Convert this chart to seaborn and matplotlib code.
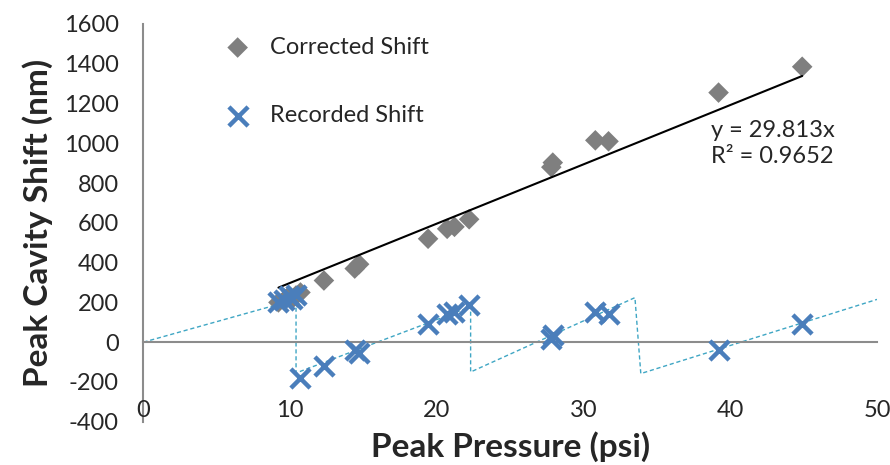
import numpy as np
import pandas as pd
import matplotlib
matplotlib.use("Agg")
import matplotlib.pyplot as plt
import seaborn as sns

sns.set_style("white")
plt.rcParams["font.family"] = ["Lato", "DejaVu Sans"]
plt.rcParams["axes.unicode_minus"] = False

# data
pressure = [9.2, 9.6, 9.9, 10.1, 10.4, 10.7, 12.3, 14.4, 14.7, 19.4,
            20.7, 21.2, 22.2, 27.8, 27.9, 30.8, 31.7, 39.2, 44.9]
corrected = [200, 210, 230, 215, 235, 250, 310, 370, 392, 520,
             570, 580, 618, 880, 903, 1015, 1010, 1255, 1385]
recorded = [200, 210, 230, 215, 235, -180, -122, -38, -55, 92,
            143, 152, 187, 18, 35, 152, 143, -40, 90]

# dashed guide (sawtooth) vertices
guide_x = [0, 10.4, 10.4, 22.3, 22.3, 33.5, 33.9, 50]
guide_y = [0, 215, -155, 178, -150, 224, -158, 215]

slope = 29.813
r2 = 0.9652

xticks = [0, 10, 20, 30, 40, 50]
yticks = list(range(-400, 1601, 200))

df = pd.DataFrame({"pressure": pressure, "corrected": corrected, "recorded": recorded})
guide = pd.DataFrame({"x": guide_x, "y": guide_y})

grey = "#7f7f7f"
blue = "#4a7ebb"
teal = "#3fa6c4"
axis_col = "#8c8c8c"
fs = 17

fig = plt.figure(figsize=(8.9, 4.65), dpi=100)
ax = fig.add_axes([0.1612, 0.0931, 0.8242, 0.8553])

sns.lineplot(data=guide, x="x", y="y", sort=False, estimator=None, ax=ax,
             color=teal, linewidth=1.0, linestyle=(0, (3, 2)), zorder=2)

sns.scatterplot(data=df, x="pressure", y="corrected", marker="D", s=110,
                color=grey, edgecolor="none", ax=ax, zorder=3, label="Corrected Shift")

# trendline through origin
tx = np.array([min(pressure), max(pressure)])
ax.plot(tx, slope * tx, color="black", linewidth=1.5, zorder=4)

sns.scatterplot(data=df, x="pressure", y="recorded", marker="x", s=190,
                color=blue, linewidth=3.2, ax=ax, zorder=5, label="Recorded Shift")

ax.text(38.66, 1000, f"y = {slope}x\nR² = {r2}", ha="left", va="center",
        fontsize=fs, linespacing=1.3)

ax.set_xlim(0, 50)
ax.set_ylim(-400, 1600)
ax.set_xticks(xticks)
ax.set_yticks(yticks)

for side in ["top", "right"]:
    ax.spines[side].set_visible(False)
ax.spines["bottom"].set_position(("data", 0))
ax.spines["left"].set_position(("data", 0))
for side in ["bottom", "left"]:
    ax.spines[side].set_color(axis_col)
    ax.spines[side].set_linewidth(1.5)

ax.tick_params(axis="both", direction="inout", length=11.5, width=1.5,
               color=axis_col, labelsize=fs)
ax.tick_params(axis="y", pad=12)
ax.tick_params(axis="x", labelbottom=False)

for t in xticks:
    ax.text(t, -343, str(t), ha="center", va="center", fontsize=fs)

ax.set_ylabel("Peak Cavity Shift (nm)", fontsize=24, fontweight="bold")
ax.yaxis.set_label_coords(-0.124, 0.5)
ax.set_xlabel("Peak Pressure (psi)", fontsize=24, fontweight="bold")
ax.xaxis.set_label_coords(0.5, -0.025)
ax.xaxis.label.set_va("top")

ax.legend(loc="upper left", bbox_to_anchor=(0.1123, 0.968), frameon=False,
          fontsize=fs, handlelength=1.0, handletextpad=0.86, labelspacing=2.0,
          borderpad=0, borderaxespad=0, scatterpoints=1)

fig.savefig("out.png", dpi=100)
